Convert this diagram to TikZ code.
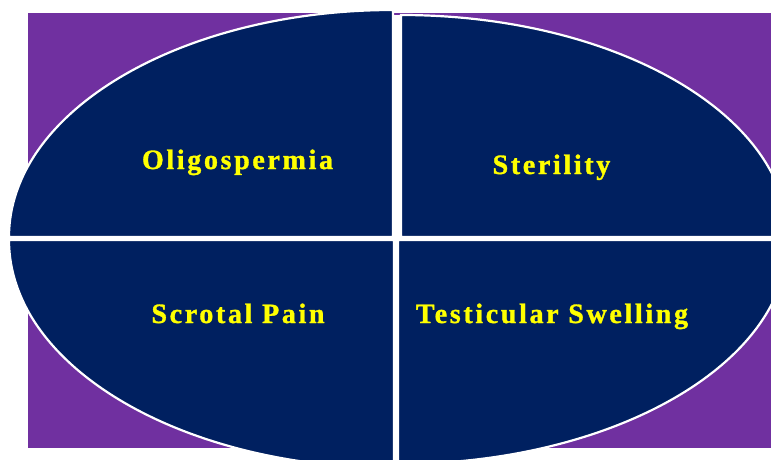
\documentclass[tikz,border=0pt]{standalone}
\usepackage{fontspec}
\setmainfont{Liberation Serif}
\newfontfamily\labfont[LetterSpace=9.5,BoldFont={Liberation Serif Bold},BoldFeatures={FakeBold=1.2}]{Liberation Serif}
\definecolor{navyq}{HTML}{002060}
\definecolor{purplebg}{HTML}{7030A0}
\definecolor{yellowt}{HTML}{FFFF00}
\tikzset{
  quarter/.style={fill=navyq, draw=white, line width=2.2pt},
  lab/.style={text=yellowt, font=\labfont\fontsize{28}{32}\selectfont\bfseries, anchor=base, inner sep=0pt}
}
\begin{document}
\begin{tikzpicture}[x=1pt,y=1pt]
\useasboundingbox (0,0) rectangle (771,459);
\clip (0,0) rectangle (771,459);
% purple background
\fill[purplebg] (28,11) rectangle (771,446);
% white gaps between quarters
\fill[white] (391,222) rectangle (403,444);
\fill[white] (392,0) rectangle (400,224);
\fill[white] (0,218) rectangle (800,223);
% quarters
\path[quarter] (393,222) -- (9,222) arc[start angle=180,end angle=90,x radius=384,y radius=227] -- cycle;
\path[quarter] (401,222) -- (401,444) arc[start angle=90,end angle=0,x radius=387,y radius=222] -- cycle;
\path[quarter] (394,219) -- (9,219) arc[start angle=180,end angle=270,x radius=385,y radius=228] -- cycle;
\path[quarter] (398,219) -- (398,-5) arc[start angle=270,end angle=360,x radius=390,y radius=224] -- cycle;
% labels
\node[lab] (oligo) at (237.5,290) {Oligospermia};
\node[lab] (steril) at (551.5,285) {Sterility};
\node[lab] (scrot) at (238,136) {Scrotal Pain};
\node[lab] (testic) at (552,136) {Testicular Swelling};
\end{tikzpicture}
\end{document}
